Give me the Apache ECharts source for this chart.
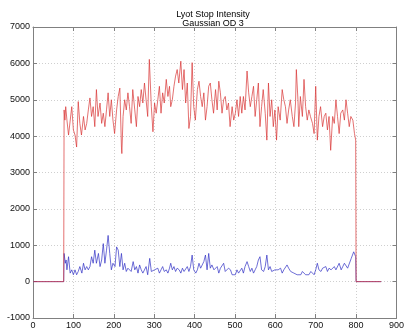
<!DOCTYPE html>
<html>
<head>
<meta charset="utf-8">
<script src="https://cdn.jsdelivr.net/npm/echarts@6/dist/echarts.min.js"></script>
<style>html,body{margin:0;padding:0;background:#fff}#c{width:407px;height:333px}</style>
</head>
<body>
<div id="c"></div>
<script>
const titleLines = ['Lyot Stop Intensity', 'Gaussian OD 3'];
const xTicks = { min: 0, max: 900, step: 100 };
const yTicks = { min: -1000, max: 7000, step: 1000 };

// [sample, intensity]
const redSeries = [[1,0],[76,0],[77,4720],[79,4440],[81,4810],[84,4440],[88,4030],[96,4810],[100,4170],[104,4030],[108,3700],[112,4950],[116,4350],[120,4030],[125,4540],[129,4170],[133,4350],[137,4720],[141,5050],[145,4540],[149,4810],[153,4260],[157,5280],[161,4540],[166,4910],[170,4350],[174,4630],[178,4260],[182,4720],[186,5190],[190,4540],[194,5000],[198,4440],[202,4070],[207,4720],[211,5090],[215,5320],[219,3700],[220,3520],[223,4540],[227,5000],[231,4720],[235,5190],[239,4810],[243,4350],[247,5280],[252,4720],[256,4260],[260,5090],[264,4810],[268,5280],[272,4910],[276,5460],[280,5000],[284,4540],[288,6110],[293,4810],[297,4120],[301,4910],[305,4630],[309,5000],[313,5370],[317,4630],[321,5190],[325,4910],[330,5560],[334,5090],[338,5370],[341,4810],[345,5000],[349,5370],[353,5650],[357,5830],[361,5460],[366,6060],[370,5280],[374,5830],[378,4910],[382,5460],[386,4210],[390,4540],[394,6020],[398,4810],[402,4440],[407,5280],[411,5510],[415,5090],[419,4810],[423,5190],[427,4440],[431,4810],[435,5370],[439,5460],[443,5000],[447,4630],[452,5280],[456,4720],[460,5510],[464,5190],[468,4630],[472,5000],[476,5090],[480,4720],[484,4910],[488,4260],[493,4810],[497,4440],[501,4630],[505,5000],[509,4540],[513,5090],[517,4630],[521,5090],[525,4720],[530,5790],[534,5190],[538,4810],[542,5090],[546,5370],[550,4540],[554,5000],[558,5460],[562,4260],[566,4810],[570,5280],[575,4630],[579,3890],[583,5460],[587,4540],[591,5000],[595,4260],[599,4720],[603,3890],[607,4810],[612,4440],[617,5280],[621,5000],[625,4810],[629,4350],[633,4720],[637,5000],[642,4540],[646,4260],[650,4910],[652,5830],[656,5000],[658,4260],[662,5090],[667,4540],[671,5560],[675,4810],[679,4440],[683,4720],[687,4540],[692,4350],[696,4070],[700,5370],[704,3890],[708,4540],[712,4810],[717,4260],[721,4540],[725,4630],[729,4170],[733,4540],[737,3610],[742,4540],[746,4350],[750,5000],[754,4540],[758,4070],[762,4630],[767,4720],[771,4440],[775,5000],[779,4630],[783,4260],[787,4540],[792,4440],[796,4070],[799,3890],[800,0],[862,0]];

const blueSeries = [[1,0],[76,0],[77,775],[80,505],[82,595],[84,324],[88,685],[92,234],[96,324],[100,189],[104,324],[108,189],[112,279],[116,414],[121,234],[125,505],[129,324],[133,414],[137,324],[141,414],[145,685],[149,505],[153,865],[157,505],[162,775],[166,414],[170,595],[174,1045],[178,505],[182,865],[186,1270],[190,775],[194,324],[198,505],[203,414],[207,955],[211,865],[215,414],[219,775],[223,324],[227,505],[231,279],[235,369],[239,414],[243,279],[248,550],[252,324],[256,414],[260,234],[264,459],[268,324],[272,234],[276,279],[280,414],[284,189],[289,640],[293,279],[297,234],[301,324],[305,279],[309,369],[313,234],[317,324],[321,414],[325,279],[330,324],[334,234],[338,369],[341,505],[345,324],[349,414],[353,279],[357,369],[362,324],[366,234],[370,369],[374,279],[378,324],[382,414],[386,279],[390,414],[394,730],[398,324],[403,234],[407,324],[411,505],[415,369],[419,414],[423,550],[427,730],[431,324],[435,775],[439,369],[443,459],[448,324],[452,279],[456,414],[460,234],[464,369],[468,324],[472,505],[476,279],[480,234],[484,369],[489,324],[493,189],[497,144],[501,189],[505,324],[509,234],[513,279],[517,369],[521,234],[525,414],[530,550],[534,414],[538,279],[542,369],[546,234],[550,324],[554,414],[558,595],[562,685],[566,324],[571,279],[575,414],[579,730],[583,324],[587,414],[591,279],[595,234],[599,324],[603,279],[607,324],[613,369],[617,234],[621,324],[625,279],[629,459],[633,369],[638,279],[642,324],[646,234],[650,279],[654,189],[658,234],[663,189],[667,279],[671,234],[675,189],[679,234],[683,189],[688,279],[692,234],[696,189],[700,324],[704,505],[708,324],[713,279],[717,369],[721,324],[725,414],[729,279],[733,369],[738,324],[742,279],[746,414],[750,324],[754,369],[758,505],[763,324],[767,414],[771,505],[775,550],[779,369],[783,414],[788,640],[792,685],[794,820],[798,865],[799,685],[800,0],[862,0]];

const FONT = "'Liberation Sans', Arial, sans-serif";
const axisColor = '#808080';
const chart = echarts.init(document.getElementById('c'), null, { renderer: 'canvas' });
const plain = v => String(v);

function axisDef(kind, pos, main) {
  const t = kind === 'x' ? xTicks : yTicks;
  return {
    type: 'value', position: pos, min: t.min, max: t.max, interval: t.step,
    axisLine: { show: true, onZero: false, lineStyle: { color: axisColor, width: 1 } },
    axisTick: { show: true, inside: true, length: 4, lineStyle: { color: axisColor } },
    axisLabel: { show: main, fontSize: 9, color: '#111', margin: 3, fontFamily: FONT, formatter: plain },
    splitLine: { show: main, lineStyle: { type: [1, 2], color: '#cfcfcf', width: 1 } }
  };
}

chart.setOption({
  animation: false,
  backgroundColor: '#fff',
  grid: { left: 33, right: 8, top: 27, bottom: 15, containLabel: false },
  xAxis: [axisDef('x', 'bottom', true), axisDef('x', 'top', false)],
  yAxis: [axisDef('y', 'left', true), axisDef('y', 'right', false)],
  graphic: [
    { type: 'text', x: 213, y: 10, style: { text: titleLines[0], font: '9px ' + FONT, fill: '#000', textAlign: 'center', textVerticalAlign: 'top' } },
    { type: 'text', x: 213, y: 19.5, style: { text: titleLines[1], font: '9px ' + FONT, fill: '#000', textAlign: 'center', textVerticalAlign: 'top' } }
  ],
  series: [
    { type: 'line', data: blueSeries, xAxisIndex: 0, yAxisIndex: 0, showSymbol: false, symbol: 'none',
      lineStyle: { color: '#2f2fc4', width: 0.7 }, z: 2 },
    { type: 'line', data: redSeries, xAxisIndex: 0, yAxisIndex: 0, showSymbol: false, symbol: 'none',
      lineStyle: { color: '#d83434', width: 0.7 }, z: 3 }
  ]
});
</script>
</body>
</html>
